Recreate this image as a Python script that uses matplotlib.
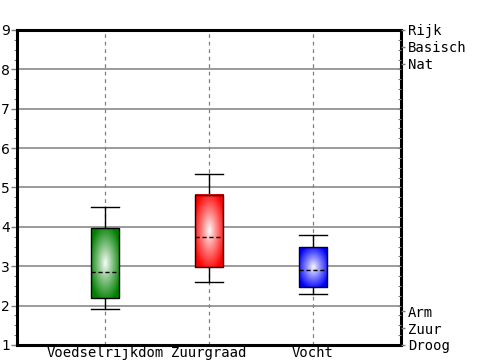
import numpy as np
import matplotlib.pyplot as plt
from matplotlib.patches import Rectangle

# Box statistics
categories = ["Voedselrijkdom", "Zuurgraad", "Vocht"]
whisker_low = [1.92, 2.60, 2.30]
q1 = [2.20, 2.98, 2.48]
median = [2.85, 3.75, 2.90]
q3 = [3.97, 4.81, 3.49]
whisker_high = [4.51, 5.35, 3.80]
box_colors = [(0.0, 0.5, 0.0), (1.0, 0.0, 0.0), (0.0, 0.0, 1.0)]

top_labels = ["Rijk", "Basisch", "Nat"]
bottom_labels = ["Arm", "Zuur", "Droog"]

mono = "DejaVu Sans Mono"

fig = plt.figure(figsize=(5, 3.6), dpi=100)
ax = fig.add_axes([0.034, 0.0417, 0.768, 0.875])

ax.set_xlim(0.154, 3.846)
ax.set_ylim(1, 9)

# grid
for y in range(2, 9):
    ax.axhline(y, color="#808080", lw=1.1, zorder=1)
xs = np.arange(1, len(categories) + 1)
for x in xs:
    ax.axvline(x, color="#808080", lw=0.9, ls=(0, (3, 3)), zorder=1)

half_w = 0.135


def gradient(color, n=150):
    gx, gy = np.meshgrid(np.linspace(-1, 1, n), np.linspace(-1, 1, n))
    r = np.sqrt(gx ** 2 + gy ** 2)
    t = np.clip(r / 1.15, 0, 1) ** 0.9
    c = np.array(color)
    img = (1 - t)[..., None] * np.ones(3) + t[..., None] * c
    return img


for i, x in enumerate(xs):
    # whiskers
    ax.plot([x, x], [q3[i], whisker_high[i]], color="black", lw=1, zorder=3)
    ax.plot([x, x], [whisker_low[i], q1[i]], color="black", lw=1, zorder=3)
    ax.plot([x - half_w, x + half_w], [whisker_high[i]] * 2, color="black", lw=1, zorder=3)
    ax.plot([x - half_w, x + half_w], [whisker_low[i]] * 2, color="black", lw=1, zorder=3)
    # gradient box
    ax.imshow(gradient(box_colors[i]), extent=[x - half_w, x + half_w, q1[i], q3[i]],
              aspect="auto", zorder=3, interpolation="bilinear")
    ax.add_patch(Rectangle((x - half_w, q1[i]), 2 * half_w, q3[i] - q1[i],
                           fill=False, edgecolor="black", lw=1, zorder=4))
    ax.plot([x - half_w, x + half_w], [median[i]] * 2, color="black", lw=1,
            ls=(0, (3, 2)), zorder=5)

ax.set_xlim(0.154, 3.846)
ax.set_ylim(1, 9)

for s in ax.spines.values():
    s.set_linewidth(2.2)
    s.set_zorder(6)

ax.set_xticks(xs)
ax.set_xticklabels(categories, fontfamily=mono, fontsize=10)
ax.tick_params(axis="x", length=0, pad=1)
ax.set_yticks(range(1, 10))
ax.set_yticks(np.arange(1, 9.01, 0.25), minor=True)
ax.tick_params(axis="y", which="major", length=4, width=1, color="#808080",
               labelsize=10, pad=1, right=True, labelright=False)
ax.tick_params(axis="y", which="minor", length=2, width=0.8, color="#808080")
for lbl in ax.get_yticklabels():
    lbl.set_horizontalalignment("right")

# right-hand labels
ax2 = ax.twinx()
ax2.set_ylim(1, 9)
right_pos = [9.0, 8.57, 8.14, 1.86, 1.43, 1.0]
ax2.set_yticks(right_pos)
ax2.set_yticklabels(top_labels + bottom_labels, fontfamily=mono, fontsize=10)
ax2.set_yticks(np.arange(1, 9.01, 0.25), minor=True)
ax2.tick_params(axis="y", which="major", length=3, width=1, color="#808080", pad=2)
ax2.tick_params(axis="y", which="minor", length=2, width=0.8, color="#808080",
                direction="in")
for s in ax2.spines.values():
    s.set_visible(False)

fig.savefig("out.png", dpi=100)
